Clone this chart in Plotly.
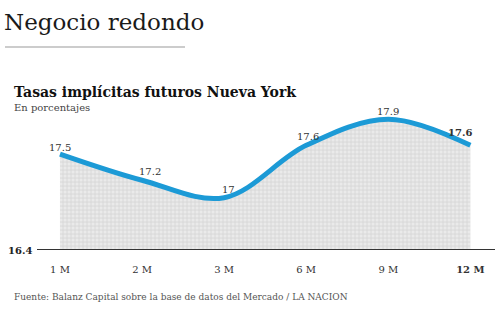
import plotly.graph_objects as go

categories = ["1 M", "2 M", "3 M", "6 M", "9 M", "12 M"]
values = [17.5, 17.2, 17.0, 17.6, 17.9, 17.6]
value_labels = ["17.5", "17.2", "17", "17.6", "17.9", "17.6"]
baseline = 16.4

xs = list(range(len(categories)))
SERIF = "DejaVu Serif, Liberation Serif, serif"

fig = go.Figure()
fig.add_trace(go.Scatter(
    x=xs, y=values, mode="lines", line=dict(color="#1c9ad6", width=5, shape="spline", smoothing=1.0),
    fill="tozeroy", fillcolor="rgba(0,0,0,0)",
    fillpattern=dict(shape="+", size=4, solidity=0.4, fgcolor="#c4c4c4", bgcolor="#eaeaea"),
    hoverinfo="skip", showlegend=False,
))

shifts = [(0, 7), (8, 9), (4, 8), (2, 9), (0, 8), (-10, 13)]
for i, (x, v, lab) in enumerate(zip(xs, values, value_labels)):
    bold = i == len(xs) - 1
    fig.add_annotation(x=x, y=v, text=f"<b>{lab}</b>" if bold else lab, showarrow=False,
                       xshift=shifts[i][0], yshift=shifts[i][1],
                       font=dict(family=SERIF, size=10, color="#333"))

ticktext = [c if i < len(categories) - 1 else f"<b>{c}</b>" for i, c in enumerate(categories)]

fig.update_layout(
    width=500, height=322, margin=dict(l=37, r=5, t=100, b=72),
    paper_bgcolor="white", plot_bgcolor="white",
    xaxis=dict(range=[-0.28, 5.3], tickvals=xs, ticktext=ticktext, showgrid=False, zeroline=False,
               showline=False, ticks="", ticklabelstandoff=12,
               tickfont=dict(family=SERIF, size=10, color="#333")),
    yaxis=dict(range=[baseline, 18.12], showticklabels=False, showgrid=False, zeroline=False),
)
fig.add_shape(type="line", xref="paper", yref="y", x0=0, x1=1, y0=baseline, y1=baseline,
              line=dict(color="#333", width=2))
fig.add_annotation(xref="paper", yref="y", x=0, y=baseline, xanchor="right", xshift=-3,
                   text=f"<b>{baseline}</b>", showarrow=False,
                   font=dict(family=SERIF, size=10, color="#222"))

fig.add_annotation(xref="paper", yref="paper", x=-35/458, y=1 + 78/150, xanchor="left", yanchor="middle",
                   text="Negocio redondo", showarrow=False,
                   font=dict(family=SERIF, size=23, color="#1a1a1a"))
fig.add_shape(type="line", xref="paper", yref="paper", x0=-32/458, x1=148/458,
              y0=1 + 53/150, y1=1 + 53/150, line=dict(color="#999", width=1))
fig.add_annotation(xref="paper", yref="paper", x=-25/458, y=1 + 8/150, xanchor="left", yanchor="middle",
                   text="<b>Tasas implícitas futuros Nueva York</b>", showarrow=False,
                   font=dict(family=SERIF, size=14, color="#111"))
fig.add_annotation(xref="paper", yref="paper", x=-25/458, y=1 - 7/150, xanchor="left", yanchor="middle",
                   text="En porcentajes", showarrow=False,
                   font=dict(family=SERIF, size=10, color="#444"))
fig.add_annotation(xref="paper", yref="paper", x=-25/458, y=-47/150, xanchor="left", yanchor="middle",
                   text="Fuente: Balanz Capital sobre la base de datos del Mercado / LA NACION", showarrow=False,
                   font=dict(family=SERIF, size=9, color="#555"))

fig.write_html("out.html")
